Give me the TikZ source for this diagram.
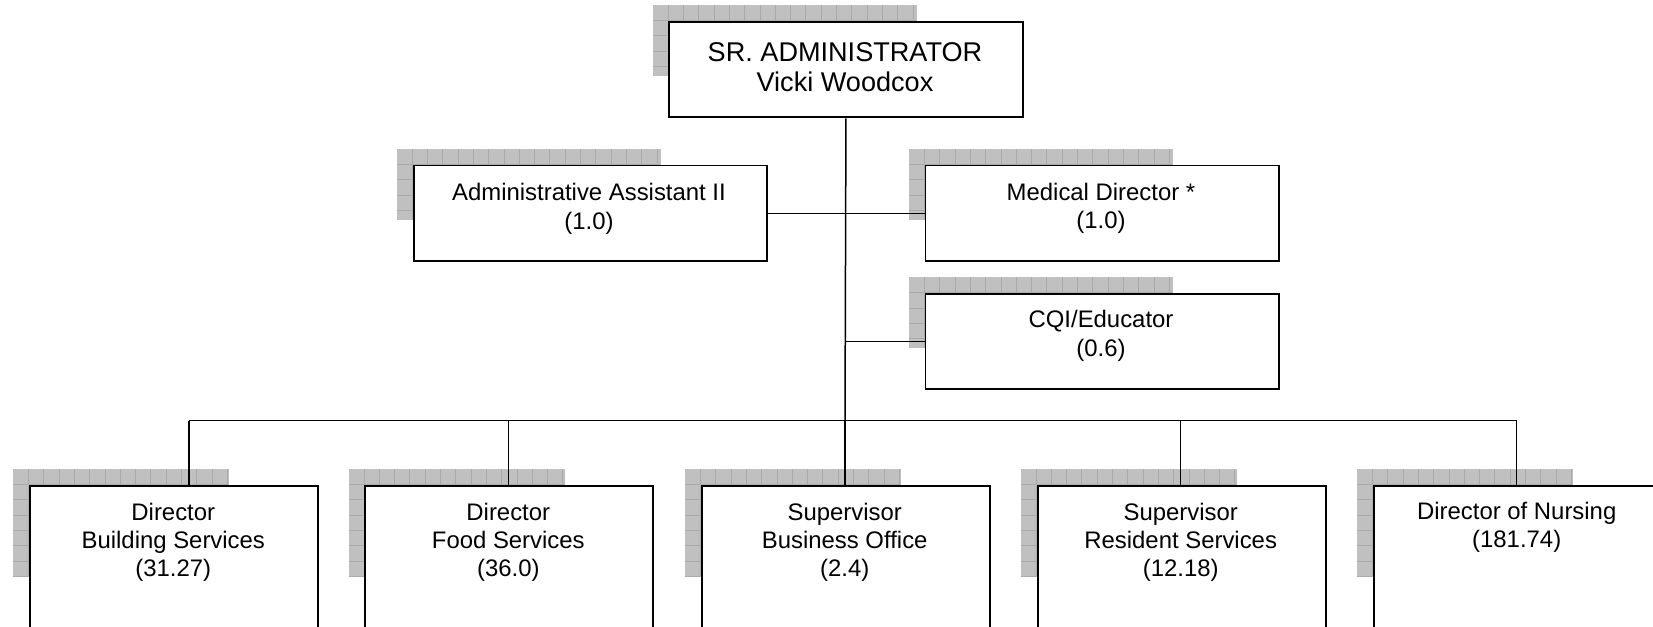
\documentclass[tikz,border=0pt]{standalone}
\usepackage{fontspec}
\setmainfont{Liberation Sans}
\newcommand\mkshadow[4]{%
  \fill[shfill] (#1,#2) rectangle ++(#3,#4);
  \begin{scope}
    \clip (#1,#2) rectangle ++(#3,#4);
    \foreach \k in {1,...,18} {
      \draw[shline] (#1+\k*15.3,#2) -- ++(0,#4);
      \draw[shline] (#1,#2+\k*15.3) -- ++(#3,0);
    }
  \end{scope}}
\begin{document}
\begin{tikzpicture}[x=0.5pt,y=-0.5pt,
  box/.style={draw=black, line width=0.95pt, fill=white, rectangle, inner sep=0pt, anchor=north west},
  wide/.style={box, minimum width=176.7pt, minimum height=47.85pt},
  low/.style={box, minimum width=144pt, minimum height=110pt},
  conn/.style={draw=black, line width=0.75pt},
  txt/.style={align=center, inner sep=0pt, anchor=base, font=\fontsize{11.95pt}{14.15pt}\selectfont},
  toptxt/.style={txt, font=\fontsize{13.55pt}{14.75pt}\selectfont},
  shfill/.style={fill={rgb,255:red,192;green,192;blue,192}},
  shline/.style={draw={rgb,255:red,170;green,170;blue,170}, line width=0.3pt}]
\useasboundingbox (0,0) rectangle (1653,626);
\clip (0,0) rectangle (1653,626);
% shadows
\mkshadow{652.7}{5}{264}{71}
\mkshadow{396.7}{149}{264}{71}
\mkshadow{909}{149}{264}{71}
\mkshadow{909}{277.3}{264}{71}
\mkshadow{13}{469}{216}{107.5}
\mkshadow{348.5}{469}{216}{107.5}
\mkshadow{685}{469}{216}{107.5}
\mkshadow{1020.5}{469}{216}{107.5}
\mkshadow{1357}{469}{216}{107.5}
% boxes
\node[wide] (sr) at (668.3,20.7) {};
\node[wide] (admin) at (412.7,164.5) {};
\node[wide] (med) at (924.5,164.5) {};
\node[wide] (cqi) at (924.5,292.7) {};
\node[low] (b1) at (29.3,484.7) {};
\node[low] (b2) at (364.3,484.7) {};
\node[low] (b3) at (700.7,484.7) {};
\node[low] (b4) at (1036.7,484.7) {};
\node[low] (b5) at (1372.7,484.7) {};
% texts (anchored at the baseline of the last line)
\node[toptxt] (srt) at (845,91.2) {SR. ADMINISTRATOR\\Vicki Woodcox};
\node[txt] (admint) at (589,229) {Administrative Assistant II\\(1.0)};
\node[txt] (medt) at (1101,228.3) {Medical Director *\\(1.0)};
\node[txt] (cqit) at (1101,356) {CQI/Educator\\(0.6)};
\node[txt] (b1t) at (173.3,576.6) {Director\\Building Services\\(31.27)};
\node[txt] (b2t) at (508.3,576.6) {Director\\Food Services\\(36.0)};
\node[txt] (b3t) at (844.7,576.6) {Supervisor\\Business Office\\(2.4)};
\node[txt] (b4t) at (1180.7,576.6) {Supervisor\\Resident Services\\(12.18)};
\node[txt] (b5t) at (1516.7,547.6) {Director of Nursing\\(181.74)};
% connectors
\coordinate (busL) at (189,420.7);
\coordinate (bus2) at (508.7,420.7);
\coordinate (busM) at (845,420.7);
\coordinate (bus4) at (1180.7,420.7);
\coordinate (busR) at (1516.7,420.7);
\draw[conn] (sr.south) -- (busM);
\draw[conn] (admin.east) -- (med.west);
\draw[conn] (cqi.west -| sr.south) -- (cqi.west);
\draw[conn] (busL) -- (busR);
\draw[conn] (busL) -- (busL |- b1.north);
\draw[conn] (bus2) -- (bus2 |- b2.north);
\draw[conn] (busM) -- (busM |- b3.north);
\draw[conn] (bus4) -- (bus4 |- b4.north);
\draw[conn] (busR) -- (busR |- b5.north);
\end{tikzpicture}
\end{document}
